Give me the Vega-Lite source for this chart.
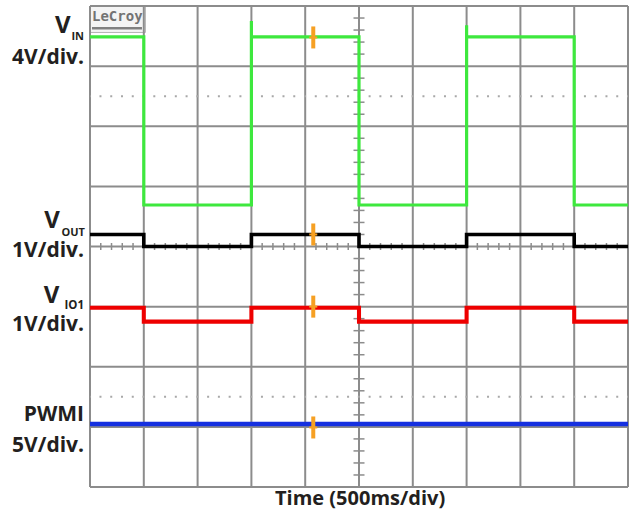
{
  "$schema": "https://vega.github.io/schema/vega-lite/v6.json",
  "width": 538,
  "height": 481,
  "autosize": "none",
  "padding": {"left": 90, "top": 6, "right": 9, "bottom": 24},
  "background": "white",
  "config": {"view": {"stroke": null}, "font": "Open Sans"},
  "datasets": {
    "traces": [
      {"ch": "VIN", "i": 0, "t": 0, "v": 7.485},
      {"ch": "VIN", "i": 1, "t": 1, "v": 4.69},
      {"ch": "VIN", "i": 2, "t": 3, "v": 7.75},
      {"ch": "VIN", "i": 3, "t": 3, "v": 7.485},
      {"ch": "VIN", "i": 4, "t": 5, "v": 4.69},
      {"ch": "VIN", "i": 5, "t": 7, "v": 7.68},
      {"ch": "VIN", "i": 6, "t": 7, "v": 7.485},
      {"ch": "VIN", "i": 7, "t": 9, "v": 4.69},
      {"ch": "VIN", "i": 8, "t": 10, "v": 4.69},
      {"ch": "VOUT", "i": 0, "t": 0, "v": 4.2},
      {"ch": "VOUT", "i": 1, "t": 1, "v": 4.0},
      {"ch": "VOUT", "i": 2, "t": 3, "v": 4.2},
      {"ch": "VOUT", "i": 3, "t": 5, "v": 4.0},
      {"ch": "VOUT", "i": 4, "t": 7, "v": 4.2},
      {"ch": "VOUT", "i": 5, "t": 9, "v": 4.0},
      {"ch": "VOUT", "i": 6, "t": 10, "v": 4.0},
      {"ch": "VIO1", "i": 0, "t": 0, "v": 2.98},
      {"ch": "VIO1", "i": 1, "t": 1, "v": 2.75},
      {"ch": "VIO1", "i": 2, "t": 3, "v": 2.98},
      {"ch": "VIO1", "i": 3, "t": 5, "v": 2.75},
      {"ch": "VIO1", "i": 4, "t": 7, "v": 2.98},
      {"ch": "VIO1", "i": 5, "t": 9, "v": 2.75},
      {"ch": "VIO1", "i": 6, "t": 10, "v": 2.75},
      {"ch": "PWMI", "i": 0, "t": 0, "v": 1.048},
      {"ch": "PWMI", "i": 1, "t": 10, "v": 1.048}
    ],
    "markers": [
      {"ch": "VIN", "t": 4.15, "v": 7.477},
      {"ch": "VOUT", "t": 4.15, "v": 4.2},
      {"ch": "VIO1", "t": 4.15, "v": 3.0},
      {"ch": "PWMI", "t": 4.15, "v": 0.99}
    ],
    "vgrid": [
      {"x": 0}, {"x": 1}, {"x": 2}, {"x": 3}, {"x": 4}, {"x": 5},
      {"x": 6}, {"x": 7}, {"x": 8}, {"x": 9}, {"x": 10}
    ],
    "hgrid": [
      {"y": 0}, {"y": 1}, {"y": 2}, {"y": 3}, {"y": 4},
      {"y": 5}, {"y": 6}, {"y": 7}, {"y": 8}
    ],
    "hticks": [
      {"x": 0.2}, {"x": 0.4}, {"x": 0.6}, {"x": 0.8},
      {"x": 1.2}, {"x": 1.4}, {"x": 1.6}, {"x": 1.8},
      {"x": 2.2}, {"x": 2.4}, {"x": 2.6}, {"x": 2.8},
      {"x": 3.2}, {"x": 3.4}, {"x": 3.6}, {"x": 3.8},
      {"x": 4.2}, {"x": 4.4}, {"x": 4.6}, {"x": 4.8},
      {"x": 5.2}, {"x": 5.4}, {"x": 5.6}, {"x": 5.8},
      {"x": 6.2}, {"x": 6.4}, {"x": 6.6}, {"x": 6.8},
      {"x": 7.2}, {"x": 7.4}, {"x": 7.6}, {"x": 7.8},
      {"x": 8.2}, {"x": 8.4}, {"x": 8.6}, {"x": 8.8},
      {"x": 9.2}, {"x": 9.4}, {"x": 9.6}, {"x": 9.8}
    ],
    "vticks": [
      {"y": 0.2}, {"y": 0.4}, {"y": 0.6}, {"y": 0.8},
      {"y": 1.2}, {"y": 1.4}, {"y": 1.6}, {"y": 1.8},
      {"y": 2.2}, {"y": 2.4}, {"y": 2.6}, {"y": 2.8},
      {"y": 3.2}, {"y": 3.4}, {"y": 3.6}, {"y": 3.8},
      {"y": 4.2}, {"y": 4.4}, {"y": 4.6}, {"y": 4.8},
      {"y": 5.2}, {"y": 5.4}, {"y": 5.6}, {"y": 5.8},
      {"y": 6.2}, {"y": 6.4}, {"y": 6.6}, {"y": 6.8},
      {"y": 7.2}, {"y": 7.4}, {"y": 7.6}, {"y": 7.8}
    ],
    "dotrows": [{"y": 1.5}, {"y": 6.5}]
  },
  "layer": [
    {
      "data": {"values": [{"name": "box"}]},
      "mark": {"type": "rect", "fill": "#f4f4f4", "stroke": "#b4b4b4", "strokeWidth": 1},
      "encoding": {
        "x": {"datum": 0.0, "type": "quantitative", "scale": {"domain": [0, 10], "nice": false, "zero": false}, "axis": null},
        "x2": {"datum": 1.03},
        "y": {"datum": 8.0, "type": "quantitative", "scale": {"domain": [0, 8], "nice": false, "zero": false}, "axis": null},
        "y2": {"datum": 7.56}
      }
    },
    {
      "data": {"name": "vgrid"},
      "mark": {"type": "rule", "color": "#8c8c8c", "strokeWidth": 2},
      "encoding": {
        "x": {"field": "x", "type": "quantitative", "scale": {"domain": [0, 10], "nice": false, "zero": false}, "axis": null}
      }
    },
    {
      "data": {"name": "hgrid"},
      "mark": {"type": "rule", "color": "#8c8c8c", "strokeWidth": 2},
      "encoding": {
        "y": {"field": "y", "type": "quantitative", "scale": {"domain": [0, 8], "nice": false, "zero": false}, "axis": null}
      }
    },
    {
      "data": {"name": "dotrows"},
      "mark": {"type": "rule", "color": "#a8a8a8", "strokeWidth": 2, "strokeDash": [2, 8.766], "strokeDashOffset": 1},
      "encoding": {
        "y": {"field": "y", "type": "quantitative", "scale": {"domain": [0, 8], "nice": false, "zero": false}, "axis": null}
      }
    },
    {
      "data": {"name": "hticks"},
      "mark": {"type": "tick", "orient": "vertical", "size": 7, "thickness": 1.5, "color": "#8c8c8c", "opacity": 1},
      "encoding": {
        "x": {"field": "x", "type": "quantitative", "scale": {"domain": [0, 10], "nice": false, "zero": false}, "axis": null},
        "y": {"datum": 4, "type": "quantitative", "scale": {"domain": [0, 8], "nice": false, "zero": false}, "axis": null}
      }
    },
    {
      "data": {"name": "vticks"},
      "mark": {"type": "tick", "orient": "horizontal", "size": 11, "thickness": 1.5, "color": "#8c8c8c", "opacity": 1},
      "encoding": {
        "x": {"datum": 5, "type": "quantitative", "scale": {"domain": [0, 10], "nice": false, "zero": false}, "axis": null},
        "y": {"field": "y", "type": "quantitative", "scale": {"domain": [0, 8], "nice": false, "zero": false}, "axis": null}
      }
    },
    {
      "data": {"name": "traces"},
      "mark": {"type": "line", "interpolate": "step-after", "strokeJoin": "miter"},
      "encoding": {
        "x": {"field": "t", "type": "quantitative", "scale": {"domain": [0, 10], "nice": false, "zero": false}, "axis": null},
        "y": {"field": "v", "type": "quantitative", "scale": {"domain": [0, 8], "nice": false, "zero": false}, "axis": null},
        "order": {"field": "i", "type": "quantitative"},
        "color": {"field": "ch", "type": "nominal", "legend": null,
          "scale": {"domain": ["VIN", "VOUT", "VIO1", "PWMI"], "range": ["#3ee83e", "#000000", "#ee0000", "#1530e0"]}},
        "strokeWidth": {"field": "ch", "type": "nominal", "legend": null,
          "scale": {"domain": ["VIN", "VOUT", "VIO1", "PWMI"], "range": [3.2, 4.5, 5.5, 4.5]}}
      }
    },
    {
      "data": {"name": "markers"},
      "mark": {"type": "tick", "orient": "vertical", "size": 22, "thickness": 4, "color": "#f6a023", "opacity": 1},
      "encoding": {
        "x": {"field": "t", "type": "quantitative", "scale": {"domain": [0, 10], "nice": false, "zero": false}, "axis": null},
        "y": {"field": "v", "type": "quantitative", "scale": {"domain": [0, 8], "nice": false, "zero": false}, "axis": null}
      }
    },
    {
      "data": {"name": "markers"},
      "mark": {"type": "tick", "orient": "horizontal", "size": 8, "thickness": 2, "color": "#f6a023", "opacity": 1},
      "encoding": {
        "x": {"field": "t", "type": "quantitative", "scale": {"domain": [0, 10], "nice": false, "zero": false}, "axis": null},
        "y": {"field": "v", "type": "quantitative", "scale": {"domain": [0, 8], "nice": false, "zero": false}, "axis": null}
      }
    },
    {
      "data": {"values": [{"label": "LeCroy"}]},
      "mark": {"type": "text", "align": "left", "baseline": "alphabetic", "font": "DejaVu Sans Mono", "fontWeight": "bold", "fontSize": 14, "color": "#737373"},
      "encoding": {
        "x": {"datum": 0.037, "type": "quantitative", "scale": {"domain": [0, 10], "nice": false, "zero": false}, "axis": null},
        "y": {"datum": 7.75, "type": "quantitative", "scale": {"domain": [0, 8], "nice": false, "zero": false}, "axis": null},
        "text": {"field": "label"}
      }
    },
    {
      "data": {"values": [{"name": "underline"}]},
      "mark": {"type": "rule", "color": "#808080", "strokeWidth": 2.5},
      "encoding": {
        "x": {"datum": 0.037, "type": "quantitative", "scale": {"domain": [0, 10], "nice": false, "zero": false}, "axis": null},
        "x2": {"datum": 0.966},
        "y": {"datum": 7.63, "type": "quantitative", "scale": {"domain": [0, 8], "nice": false, "zero": false}, "axis": null}
      }
    },
    {
      "data": {"values": [{"label": "Time (500ms/div)"}]},
      "mark": {"type": "text", "align": "center", "baseline": "alphabetic", "font": "Open Sans", "fontWeight": "bold", "fontSize": 20, "color": "#231f20", "clip": false},
      "encoding": {
        "x": {"datum": 5.02, "type": "quantitative", "scale": {"domain": [0, 10], "nice": false, "zero": false}, "axis": null},
        "y": {"datum": -0.3, "type": "quantitative", "scale": {"domain": [0, 8], "nice": false, "zero": false}, "axis": null},
        "text": {"field": "label"}
      }
    },
    {
      "data": {"values": [{"label": "V"}]},
      "mark": {"type": "text", "align": "right", "baseline": "alphabetic", "font": "Open Sans", "fontWeight": "bold", "fontSize": 24, "color": "#231f20", "clip": false},
      "encoding": {
        "x": {"datum": -0.36, "type": "quantitative", "scale": {"domain": [0, 10], "nice": false, "zero": false}, "axis": null},
        "y": {"datum": 7.551, "type": "quantitative", "scale": {"domain": [0, 8], "nice": false, "zero": false}, "axis": null},
        "text": {"field": "label"}
      }
    },
    {
      "data": {"values": [{"label": "IN"}]},
      "mark": {"type": "text", "align": "right", "baseline": "alphabetic", "font": "Open Sans", "fontWeight": "bold", "fontSize": 11, "color": "#231f20", "clip": false},
      "encoding": {
        "x": {"datum": -0.111, "type": "quantitative", "scale": {"domain": [0, 10], "nice": false, "zero": false}, "axis": null},
        "y": {"datum": 7.435, "type": "quantitative", "scale": {"domain": [0, 8], "nice": false, "zero": false}, "axis": null},
        "text": {"field": "label"}
      }
    },
    {
      "data": {"values": [{"label": "4V/div."}]},
      "mark": {"type": "text", "align": "right", "baseline": "alphabetic", "font": "Open Sans", "fontWeight": "bold", "fontSize": 21, "color": "#231f20", "clip": false},
      "encoding": {
        "x": {"datum": -0.111, "type": "quantitative", "scale": {"domain": [0, 10], "nice": false, "zero": false}, "axis": null},
        "y": {"datum": 7.035, "type": "quantitative", "scale": {"domain": [0, 8], "nice": false, "zero": false}, "axis": null},
        "text": {"field": "label"}
      }
    },
    {
      "data": {"values": [{"label": "V"}]},
      "mark": {"type": "text", "align": "right", "baseline": "alphabetic", "font": "Open Sans", "fontWeight": "bold", "fontSize": 24, "color": "#231f20", "clip": false},
      "encoding": {
        "x": {"datum": -0.56, "type": "quantitative", "scale": {"domain": [0, 10], "nice": false, "zero": false}, "axis": null},
        "y": {"datum": 4.308, "type": "quantitative", "scale": {"domain": [0, 8], "nice": false, "zero": false}, "axis": null},
        "text": {"field": "label"}
      }
    },
    {
      "data": {"values": [{"label": "OUT"}]},
      "mark": {"type": "text", "align": "right", "baseline": "alphabetic", "font": "Open Sans", "fontWeight": "bold", "fontSize": 11, "color": "#231f20", "clip": false},
      "encoding": {
        "x": {"datum": -0.093, "type": "quantitative", "scale": {"domain": [0, 10], "nice": false, "zero": false}, "axis": null},
        "y": {"datum": 4.18, "type": "quantitative", "scale": {"domain": [0, 8], "nice": false, "zero": false}, "axis": null},
        "text": {"field": "label"}
      }
    },
    {
      "data": {"values": [{"label": "1V/div."}]},
      "mark": {"type": "text", "align": "right", "baseline": "alphabetic", "font": "Open Sans", "fontWeight": "bold", "fontSize": 21, "color": "#231f20", "clip": false},
      "encoding": {
        "x": {"datum": -0.111, "type": "quantitative", "scale": {"domain": [0, 10], "nice": false, "zero": false}, "axis": null},
        "y": {"datum": 3.825, "type": "quantitative", "scale": {"domain": [0, 8], "nice": false, "zero": false}, "axis": null},
        "text": {"field": "label"}
      }
    },
    {
      "data": {"values": [{"label": "V"}]},
      "mark": {"type": "text", "align": "right", "baseline": "alphabetic", "font": "Open Sans", "fontWeight": "bold", "fontSize": 24, "color": "#231f20", "clip": false},
      "encoding": {
        "x": {"datum": -0.57, "type": "quantitative", "scale": {"domain": [0, 10], "nice": false, "zero": false}, "axis": null},
        "y": {"datum": 3.065, "type": "quantitative", "scale": {"domain": [0, 8], "nice": false, "zero": false}, "axis": null},
        "text": {"field": "label"}
      }
    },
    {
      "data": {"values": [{"label": "IO1"}]},
      "mark": {"type": "text", "align": "right", "baseline": "alphabetic", "font": "Open Sans", "fontWeight": "bold", "fontSize": 11.5, "color": "#231f20", "clip": false},
      "encoding": {
        "x": {"datum": -0.111, "type": "quantitative", "scale": {"domain": [0, 10], "nice": false, "zero": false}, "axis": null},
        "y": {"datum": 2.96, "type": "quantitative", "scale": {"domain": [0, 8], "nice": false, "zero": false}, "axis": null},
        "text": {"field": "label"}
      }
    },
    {
      "data": {"values": [{"label": "1V/div."}]},
      "mark": {"type": "text", "align": "right", "baseline": "alphabetic", "font": "Open Sans", "fontWeight": "bold", "fontSize": 21, "color": "#231f20", "clip": false},
      "encoding": {
        "x": {"datum": -0.111, "type": "quantitative", "scale": {"domain": [0, 10], "nice": false, "zero": false}, "axis": null},
        "y": {"datum": 2.595, "type": "quantitative", "scale": {"domain": [0, 8], "nice": false, "zero": false}, "axis": null},
        "text": {"field": "label"}
      }
    },
    {
      "data": {"values": [{"label": "PWMI"}]},
      "mark": {"type": "text", "align": "right", "baseline": "alphabetic", "font": "Open Sans", "fontWeight": "bold", "fontSize": 21, "color": "#231f20", "clip": false},
      "encoding": {
        "x": {"datum": -0.111, "type": "quantitative", "scale": {"domain": [0, 10], "nice": false, "zero": false}, "axis": null},
        "y": {"datum": 1.103, "type": "quantitative", "scale": {"domain": [0, 8], "nice": false, "zero": false}, "axis": null},
        "text": {"field": "label"}
      }
    },
    {
      "data": {"values": [{"label": "5V/div."}]},
      "mark": {"type": "text", "align": "right", "baseline": "alphabetic", "font": "Open Sans", "fontWeight": "bold", "fontSize": 21, "color": "#231f20", "clip": false},
      "encoding": {
        "x": {"datum": -0.111, "type": "quantitative", "scale": {"domain": [0, 10], "nice": false, "zero": false}, "axis": null},
        "y": {"datum": 0.582, "type": "quantitative", "scale": {"domain": [0, 8], "nice": false, "zero": false}, "axis": null},
        "text": {"field": "label"}
      }
    }
  ]
}
